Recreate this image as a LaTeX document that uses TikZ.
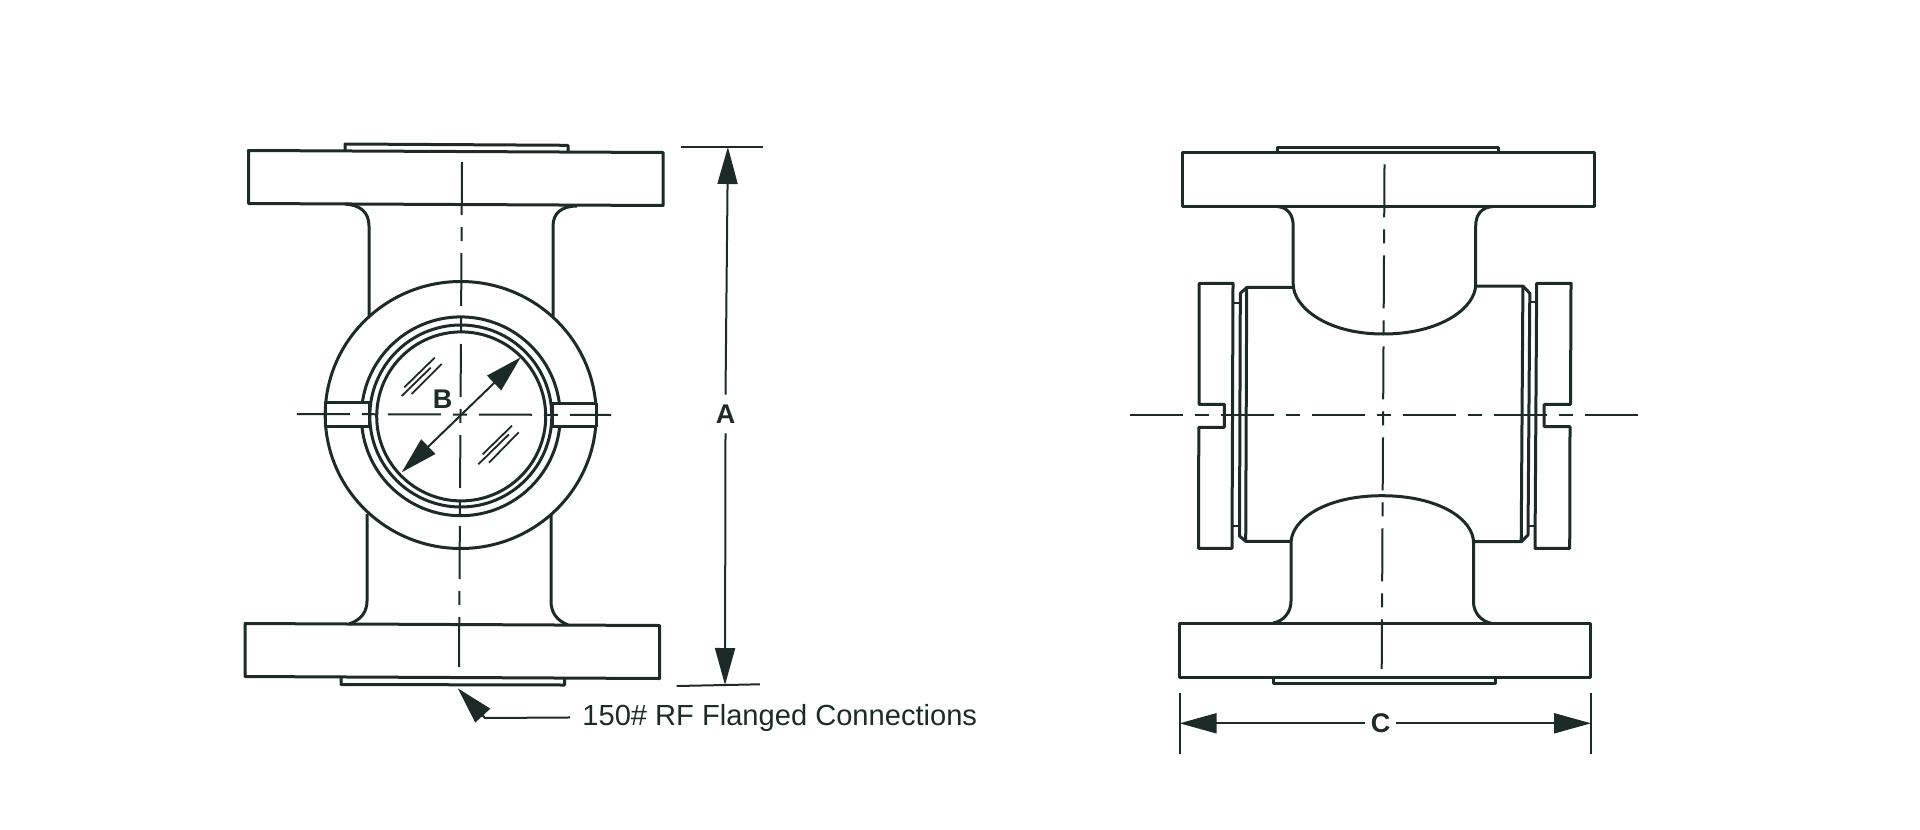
\documentclass[tikz,border=0pt]{standalone}
\usepackage{fontspec}
\setmainfont{Liberation Sans}
\usepackage{tikz}
\usetikzlibrary{arrows.meta}
\definecolor{inkdark}{HTML}{1C2A28}
\tikzset{
>={Triangle[length=18.5pt,width=10pt]},
  outline/.style={draw=inkdark, line width=1.5pt, line join=round},
  thinline/.style={draw=inkdark, line width=1pt},
  centreline/.style={draw=inkdark, line width=1pt, dash pattern=on 26.5pt off 6pt on 7pt off 6pt},
  glassline/.style={draw=inkdark, line width=0.9pt},
  dimline/.style={draw=inkdark, line width=1pt, ->},
  dimlabel/.style={text=inkdark, inner sep=0pt, font=\fontsize{13.5}{16}\selectfont\bfseries},
  flangelabel/.style={text=inkdark, inner sep=6pt, anchor=base west, font=\fontsize{14.55}{16}\selectfont}
}
\begin{document}
\begin{tikzpicture}[x=0.5pt, y=-0.5pt]
    \useasboundingbox (0,0) rectangle (1920,829);

    \draw [outline] (345,204) .. controls (360,205) and (369,212) .. (369,226) -- (369,317);
    \draw [outline] (577,206) .. controls (562,206) and (553,213) .. (553,226) -- (553,316);
    \draw [outline] (367,514) -- (367,601) .. controls (367,612) and (361,620) .. (349,624);
    \draw [outline] (551,515) -- (551,601) .. controls (551,612) and (556,620) .. (568,625);
    \draw [outline] (248.5,150.5) -- (663,152.5) -- (663,205.5) -- (248.5,203.5) -- cycle;
    \draw [outline] (345,151) -- (345,144) -- (568,145.3) -- (568,152.5);
    \draw [outline] (245,623.5) -- (659.5,625.5) -- (659.5,678.5) -- (245,676.5) -- cycle;
    \draw [outline] (341,677) -- (341,684.5) -- (564.5,685) -- (564.5,678);

    \draw [outline, fill=white] (460.7,415) ellipse [x radius=135.5, y radius=133.5];
    \draw [outline] (460.8,416.3) circle [radius=99.4];
    \draw [outline, fill=white] (325.5,402) rectangle (369,426);
    \draw [outline, fill=white] (552.5,403.5) rectangle (596,426.5);
    \draw [outline] (460.8,416) circle [radius=91];
    \draw [outline] (461.2,416.4) circle [radius=84.5];

    \draw [glassline] (404.3,387.3) -- (434.7,357.7);
    \draw [glassline] (401.7,396) -- (430.7,367.7);
    \draw [glassline] (411.7,394) -- (441.7,364);
    \draw [glassline] (482.7,454.3) -- (512,425.7);
    \draw [glassline] (478.3,464.3) -- (509,434.3);
    \draw [glassline] (489,462.7) -- (518.7,432.3);

    \draw [centreline] (462,162) -- (459,667);
    \draw [centreline] (296.8,414) -- (611,415);

    \coordinate (boreTop) at (520.7,357.3);
    \coordinate (boreBot) at (401.7,472.3);
    \coordinate (boreMid) at (461,415);
    \draw [dimline] (boreMid) -- (boreTop);
    \draw [dimline] (boreMid) -- (boreBot);
    \node [dimlabel] (labelB) at (442.5,399) {B};

    \coordinate (extTop) at (727.9,147);
    \coordinate (extBot) at (725,685);
    \draw [thinline] (680.7,146.7) -- (762.9,146.7);
    \draw [thinline] (676.7,686) -- (759.8,684.3);
    \node [dimlabel, minimum height=19pt] (labelA) at (725.5,414) {A};
    \draw [dimline] (labelA.north) -- (extTop);
    \draw [dimline] (labelA.south) -- (extBot);

    \node [flangelabel] (flangeText) at (570,725) {150\# RF Flanged Connections};
    \coordinate (leadBend) at (485,718);
    \coordinate (leadTip) at (457.8,688.3);
    \draw [dimline] (flangeText.west) -- (leadBend) -- (leadTip);

    \draw [outline] (1276.7,206.5) .. controls (1287,207) and (1293.2,214) .. (1293.2,226) -- (1293.2,284) .. controls (1293,306) and (1325,334) .. (1383.4,334) .. controls (1440,334) and (1476,308) .. (1475.7,284) -- (1475.7,226) .. controls (1475.7,214) and (1482,207) .. (1493.6,206.5);
    \draw [outline] (1273.2,623) .. controls (1284,621) and (1291,612) .. (1291,601) -- (1291,543) .. controls (1291,520) and (1325,495.7) .. (1381.7,495.7) .. controls (1440,495.7) and (1474,520) .. (1473.5,543) -- (1473.5,603) .. controls (1474,612) and (1480,621) .. (1491.9,623.5);
    \draw [outline] (1182.7,152.3) rectangle (1594.5,206);
    \draw [outline] (1277.4,152) -- (1277.4,147.3) -- (1498.8,147.3) -- (1498.8,152);
    \draw [outline] (1179.2,623.3) rectangle (1590,677.3);
    \draw [outline] (1273.9,677.5) -- (1273.9,683.5) -- (1495.3,683.5) -- (1495.3,677.5);

    \draw [outline] (1293.2,287.3) -- (1247,287.3) -- (1240.3,293.3) -- (1239.5,536) -- (1245.7,541.3) -- (1291,541.3);
    \draw [outline] (1246.7,287.5) -- (1245.7,541.3);
    \draw [outline] (1475.7,286) -- (1522.9,286) -- (1529.8,293.3) -- (1528,535) -- (1521.2,541.7) -- (1473.5,541.7);
    \draw [outline] (1522.9,286) -- (1521.2,541.7);
    \draw [thinline] (1233,302.7) -- (1240,302.7);
    \draw [thinline] (1232,526) -- (1239.5,526);
    \draw [thinline] (1529.8,302) -- (1536.7,302);
    \draw [thinline] (1528,526) -- (1535,526);

    \draw [outline] (1199.2,283.3) -- (1233,283.3) -- (1232,548.3) -- (1198.5,548.3) -- (1198.8,427.3) -- (1224.3,427.3) -- (1224.3,404.3) -- (1199,404.3) -- cycle;
    \draw [outline] (1536.7,283.3) -- (1571,283.3) -- (1570.5,404.3) -- (1544.2,404.3) -- (1544.2,426.7) -- (1570,426.7) -- (1569.7,548.3) -- (1535,548.3) -- cycle;

    \draw [centreline] (1384.5,164.3) -- (1381.7,669);
    \draw [centreline] (1129.6,415) -- (1638,415);

    \coordinate (extLeft) at (1179.6,723.3);
    \coordinate (extRight) at (1591,723.3);
    \draw [thinline] (1179.6,693.3) -- (1179.6,754.3);
    \draw [thinline] (1591.4,693.3) -- (1591.4,754.3);
    \node [dimlabel, minimum width=15pt] (labelC) at (1380.7,723.3) {C};
    \draw [dimline] (labelC.west) -- (extLeft);
    \draw [dimline] (labelC.east) -- (extRight);
\end{tikzpicture}
\end{document}
